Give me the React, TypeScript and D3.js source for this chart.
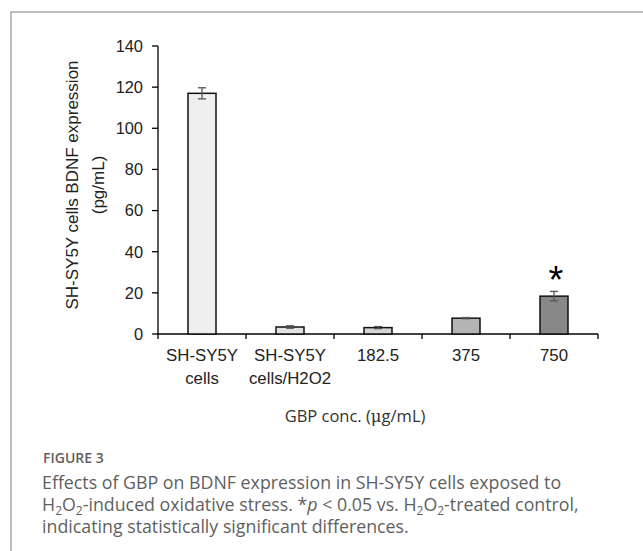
import React, { useEffect, useRef } from "react";
import * as d3 from "d3";

// valores
const categories = ["SH-SY5Y\ncells", "SH-SY5Y\ncells/H2O2", "182.5", "375", "750"];
const means = [117, 3.4, 3.1, 7.7, 18.4];
const errors = [2.7, 0.6, 0.5, 0.3, 2.3];
const fills = ["#efefef", "#e2e2e2", "#d4d4d4", "#b4b4b4", "#888888"];
const significant = [false, false, false, false, true];
const yTicks = [0, 20, 40, 60, 80, 100, 120, 140];

const App = () => {
  const svgRef = useRef<SVGSVGElement>(null);

  useEffect(() => {
    const svg = d3.select(svgRef.current);
    svg.selectAll("*").remove();

    const width = 643;
    const height = 551;
    svg.attr("width", width).attr("height", height);

    // marco
    svg.append("path")
      .attr("d", `M${width},12 H11 V${height}`)
      .attr("fill", "none")
      .attr("stroke", "#a8a8a8")
      .attr("stroke-width", 1.5);

    const x = d3.scaleBand().domain(categories).range([158, 598]).paddingInner(0).paddingOuter(0);
    const y = d3.scaleLinear().domain([0, 140]).range([334, 46]);
    const barW = 28;
    const font = "'Liberation Sans', Arial, sans-serif";

    // eje Y
    svg.append("line")
      .attr("x1", 158).attr("x2", 158)
      .attr("y1", y(0)).attr("y2", y(140))
      .attr("stroke", "#000").attr("stroke-width", 1.3);
    const yg = svg.append("g");
    yg.selectAll("line")
      .data(yTicks)
      .join("line")
      .attr("x1", 152).attr("x2", 158)
      .attr("y1", d => y(d)).attr("y2", d => y(d))
      .attr("stroke", "#000").attr("stroke-width", 1.3);
    yg.selectAll("text")
      .data(yTicks)
      .join("text")
      .attr("x", 143)
      .attr("y", d => y(d))
      .attr("dy", "0.36em")
      .attr("text-anchor", "end")
      .attr("font-family", font)
      .attr("font-size", 16.4)
      .attr("fill", "#222")
      .text(d => d);

    // eje X
    svg.append("line")
      .attr("x1", 158).attr("x2", 598)
      .attr("y1", y(0)).attr("y2", y(0))
      .attr("stroke", "#000").attr("stroke-width", 1.3);
    const bounds = categories.map(c => x(c)!).concat([598]);
    svg.append("g").selectAll("line")
      .data(bounds)
      .join("line")
      .attr("x1", d => d).attr("x2", d => d)
      .attr("y1", y(0)).attr("y2", y(0) + 5)
      .attr("stroke", "#000").attr("stroke-width", 1.3);

    const labels = svg.append("g").selectAll("text")
      .data(categories)
      .join("text")
      .attr("x", d => x(d)! + x.bandwidth() / 2)
      .attr("y", 361)
      .attr("text-anchor", "middle")
      .attr("font-family", font)
      .attr("font-size", 16.8)
      .attr("fill", "#222");
    labels.selectAll("tspan")
      .data(d => d.split("\n"))
      .join("tspan")
      .attr("x", function () { return (this.parentNode as SVGTextElement).getAttribute("x"); })
      .attr("dy", (_, i) => (i === 0 ? 0 : 23))
      .text(d => d);

    // barras
    const cx = (i: number) => x(categories[i])! + x.bandwidth() / 2;
    svg.append("g").selectAll("rect")
      .data(means)
      .join("rect")
      .attr("x", (_, i) => cx(i) - barW / 2)
      .attr("width", barW)
      .attr("y", d => y(d))
      .attr("height", d => y(0) - y(d))
      .attr("fill", (_, i) => fills[i])
      .attr("stroke", "#111")
      .attr("stroke-width", 1.5);

    // barras de error
    const eg = svg.append("g").attr("stroke", "#555").attr("stroke-width", 1.3);
    means.forEach((m, i) => {
      const lo = m - errors[i];
      const hi = m + errors[i];
      eg.append("line").attr("x1", cx(i)).attr("x2", cx(i)).attr("y1", y(lo)).attr("y2", y(hi));
      eg.append("line").attr("x1", cx(i) - 4).attr("x2", cx(i) + 4).attr("y1", y(hi)).attr("y2", y(hi));
      eg.append("line").attr("x1", cx(i) - 4).attr("x2", cx(i) + 4).attr("y1", y(lo)).attr("y2", y(lo));
    });

    // asterisco
    svg.append("g").selectAll("text")
      .data(means.map((m, i) => ({ m, i })).filter(d => significant[d.i]))
      .join("text")
      .attr("x", d => cx(d.i) + 2)
      .attr("y", d => y(d.m + errors[d.i]) + 2)
      .attr("text-anchor", "middle")
      .attr("font-family", font)
      .attr("font-size", 38)
      .attr("fill", "#000")
      .text("*");

    // título eje Y
    const yt = svg.append("text")
      .attr("transform", "translate(0,185) rotate(-90)")
      .attr("text-anchor", "middle")
      .attr("font-family", font)
      .attr("font-size", 17)
      .attr("fill", "#222");
    yt.append("tspan").attr("x", 0).attr("y", 78).text("SH-SY5Y cells BDNF expression");
    yt.append("tspan").attr("x", 0).attr("y", 104).text("(pg/mL)");

    // título eje X
    const xt = svg.append("text")
      .attr("x", 355)
      .attr("y", 422)
      .attr("text-anchor", "middle")
      .attr("font-family", "'Open Sans', sans-serif")
      .attr("font-size", 16.5)
      .attr("fill", "#333");
    xt.append("tspan").text("GBP conc. (");
    xt.append("tspan").attr("font-family", "'DejaVu Serif', serif").text("μ");
    xt.append("tspan").text("g/mL)");

    // leyenda de la figura
    const cap = "'Open Sans', sans-serif";
    svg.append("text")
      .attr("x", 43).attr("y", 463)
      .attr("font-family", cap).attr("font-size", 14).attr("font-weight", 600)
      .attr("fill", "#5f5f5f")
      .text("FIGURE 3");

    const capText = svg.append("g")
      .attr("font-family", cap).attr("font-size", 17.8).attr("fill", "#5f5f5f");
    capText.append("text").attr("x", 42).attr("y", 489)
      .text("Effects of GBP on BDNF expression in SH-SY5Y cells exposed to");

    // segunda línea con subíndices: [texto, es subíndice, cursiva]
    const line2: [string, boolean, boolean][] = [
      ["H", false, false], ["2", true, false], ["O", false, false], ["2", true, false],
      ["-induced oxidative stress. *", false, false], ["p", false, true],
      [" < 0.05 vs. H", false, false], ["2", true, false], ["O", false, false], ["2", true, false],
      ["-treated control,", false, false],
    ];
    const l2 = capText.append("text").attr("x", 42).attr("y", 511);
    line2.forEach(([t, isSub, ital], i) => {
      const prevSub = i > 0 && line2[i - 1][1];
      const dy = isSub && !prevSub ? 4 : !isSub && prevSub ? -4 : 0;
      const ts = l2.append("tspan").text(t);
      if (dy !== 0) ts.attr("dy", dy);
      if (isSub) ts.attr("font-size", 12);
      if (ital) ts.attr("font-style", "italic");
    });
    capText.append("text").attr("x", 42).attr("y", 533)
      .text("indicating statistically significant differences.");
  }, []);

  return <svg ref={svgRef} style={{ position: "absolute", left: 0, top: 0 }}></svg>;
};

export default App;
